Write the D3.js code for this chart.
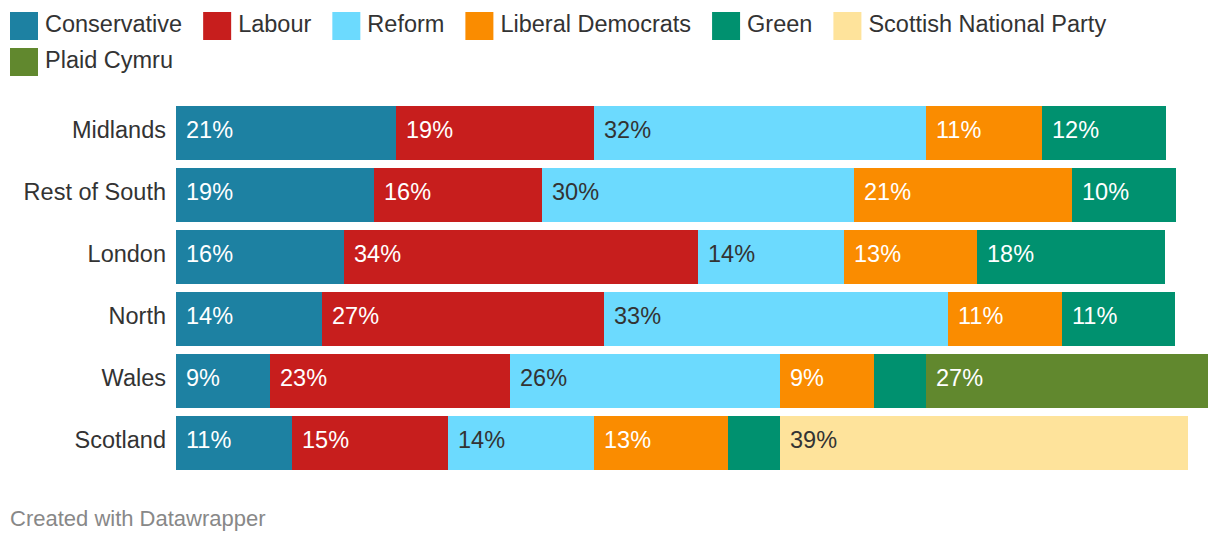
<!DOCTYPE html>
<html>
<head>
<meta charset="utf-8">
<script src="https://cdn.jsdelivr.net/npm/d3@7"></script>
<style>
  html, body { margin: 0; padding: 0; background: #fff; }
  svg { display: block; font-family: "Helvetica Neue", Helvetica, Arial, "Liberation Sans", sans-serif; }
</style>
</head>
<body>
<svg id="chart" width="1220" height="542"></svg>
<script>
// ---- data ----
const regions = ["Midlands", "Rest of South", "London", "North", "Wales", "Scotland"];
const parties = ["Conservative", "Labour", "Reform", "Liberal Democrats", "Green", "Scottish National Party", "Plaid Cymru"];
const partyColors = ["#1d81a2", "#c71e1d", "#6cdafe", "#fa8c00", "#00916f", "#fee39b", "#61882e"];
const partyTextColors = ["#fff", "#fff", "#333", "#fff", "#fff", "#333", "#fff"];
// shares (%) per region, in the order of `parties`
const conservative = [21.1, 19.0, 16.1, 14.0, 9.0, 11.1];
const labour       = [19.0, 16.1, 33.9, 27.0, 23.0, 15.0];
const reform       = [31.8, 29.9, 14.0, 33.0, 25.9, 14.0];
const libDems      = [11.1, 20.9, 12.8, 10.9, 9.0, 12.8];
const green        = [11.9, 10.0, 18.0, 10.9, 5.0, 5.0];
const snp          = [0, 0, 0, 0, 0, 39.1];
const plaid        = [0, 0, 0, 0, 27.0, 0];
const footerText = "Created with Datawrapper";

const seriesValues = [conservative, labour, reform, libDems, green, snp, plaid];
const table = regions.map((r, i) => {
  const row = { region: r };
  parties.forEach((p, j) => row[p] = seriesValues[j][i]);
  return row;
});

// ---- layout ----
const svg = d3.select("#chart");
const W = 1220;
const x = d3.scaleLinear().domain([0, 100]).range([176, 1219]).interpolate(d3.interpolateRound);
const y = d3.scaleBand().domain(regions).range([102, 102 + 6 * 62]).paddingInner(8 / 62).paddingOuter(4 / 62);
const color = d3.scaleOrdinal().domain(parties).range(partyColors);
const textColor = d3.scaleOrdinal().domain(parties).range(partyTextColors);
const FS = 23.5;

// legend
const legend = svg.append("g");
let lx = 10, ly = 12;
parties.forEach((p, i) => {
  const g = legend.append("g");
  g.append("rect").attr("width", 28).attr("height", 28).attr("fill", color(p));
  const t = g.append("text").attr("x", 35).attr("y", 20).attr("font-size", FS).attr("fill", "#333").text(p);
  const w = 35 + t.node().getComputedTextLength();
  if (lx + w > W - 10) { lx = 10; ly += 36; }
  g.attr("transform", `translate(${lx},${ly})`);
  lx += w + 21;
});

// stacked bars
const stack = d3.stack().keys(parties)(table);
const layers = svg.append("g").attr("shape-rendering", "crispEdges").selectAll("g").data(stack).join("g");
layers.selectAll("rect")
  .data(d => d.map(s => ({ key: d.key, s })))
  .join("rect")
  .attr("x", d => x(d.s[0]))
  .attr("y", d => y(d.s.data.region))
  .attr("width", d => x(d.s[1]) - x(d.s[0]))
  .attr("height", y.bandwidth())
  .attr("fill", d => color(d.key));

// value labels (only where segment is wide enough)
layers.selectAll("text")
  .data(d => d.map(s => ({ key: d.key, s })).filter(d => (d.s[1] - d.s[0]) >= 6))
  .join("text")
  .attr("shape-rendering", "auto")
  .attr("x", d => x(d.s[0]) + 10)
  .attr("y", d => y(d.s.data.region) + 32)
  .attr("font-size", FS)
  .attr("fill", d => textColor(d.key))
  .text(d => Math.round(d.s[1] - d.s[0]) + "%");

// region labels
svg.append("g").selectAll("text").data(regions).join("text")
  .attr("x", x(0) - 10)
  .attr("y", d => y(d) + 32)
  .attr("text-anchor", "end")
  .attr("font-size", FS)
  .attr("fill", "#333")
  .text(d => d);

// footer
svg.append("text").attr("x", 10).attr("y", 526).attr("font-size", 22).attr("fill", "#888").text(footerText);
</script>
</body>
</html>
